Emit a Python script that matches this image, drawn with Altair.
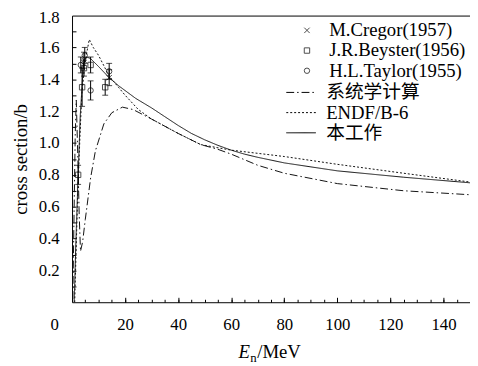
import altair as alt
import pandas as pd

# ---------------- data ----------------
line_names = ["系统学计算", "ENDF/B-6", "本工作"]

E_sys = [0.3, 0.8, 1.2, 1.6, 2.2, 2.7, 3.2, 4, 5, 7, 8.8, 12, 15, 19, 23, 30, 40, 48.5, 55, 60, 70, 80, 100, 125, 150]
S_sys = [0.02, 0.6, 1.05, 1.27, 0.9, 0.55, 0.32, 0.38, 0.52, 0.78, 0.95, 1.12, 1.19, 1.225, 1.21, 1.15, 1.06, 0.99, 0.96, 0.93, 0.86, 0.81, 0.745, 0.70, 0.675]

E_endf = [1.0, 2, 3, 3.7, 5, 6.5, 8, 10, 14, 17.5, 20, 25, 30, 40, 48.5, 55, 60, 70, 80, 100, 125, 150]
S_endf = [0.0, 0.6, 1.05, 1.31, 1.52, 1.65, 1.6, 1.55, 1.42, 1.35, 1.30, 1.21, 1.15, 1.06, 0.99, 0.97, 0.955, 0.935, 0.915, 0.866, 0.81, 0.755]

E_work = [0.8, 1.5, 2.3, 3.1, 4.3, 5.5, 7, 10, 14, 17.5, 24, 30, 35, 40, 45, 50, 55, 60, 65, 70, 80, 100, 125, 150]
S_work = [0.0, 0.4, 0.8, 1.17, 1.50, 1.54, 1.53, 1.48, 1.41, 1.36, 1.28, 1.22, 1.165, 1.11, 1.06, 1.02, 0.985, 0.955, 0.93, 0.91, 0.875, 0.825, 0.785, 0.75]

point_names = ["M.Cregor(1957)", "J.R.Beyster(1956)", "H.L.Taylor(1955)"]

E_cregor = [4.5, 14.0]
S_cregor = [1.52, 1.41]
D_cregor = [0.05, 0.05]

E_beyster = [2.3, 3.8, 4.5, 7.0, 12.5]
S_beyster = [0.80, 1.35, 1.47, 1.49, 1.35]
D_beyster = [0.06, 0.12, 0.05, 0.05, 0.05]

E_taylor = [3.3, 4.8, 7.0, 14.0]
S_taylor = [1.49, 1.55, 1.33, 1.45]
D_taylor = [0.05, 0.05, 0.06, 0.05]

x_labels = [0, 20, 40, 60, 80, 100, 120, 140]
x_major = [20, 40, 60, 80, 100, 120, 140]
x_minor = [v for v in range(5, 150, 5)]
y_labels = [0.2, 0.4, 0.6, 0.8, 1.0, 1.2, 1.4, 1.6, 1.8]
y_minor = [0.1, 0.2, 0.3, 0.4, 0.5, 0.6, 0.7, 0.8, 0.9, 1.0, 1.1, 1.2, 1.3, 1.4, 1.5, 1.6, 1.7]

# ---------------- tables ----------------
rows = []
for name, es, ss in zip(line_names, [E_sys, E_endf, E_work], [S_sys, S_endf, S_work]):
    for i, (e, s) in enumerate(zip(es, ss)):
        rows.append({"series": name, "E": e, "S": s, "i": i})
lines_df = pd.DataFrame(rows)

prow = []
for name, es, ss, ds in zip(point_names, [E_cregor, E_beyster, E_taylor],
                            [S_cregor, S_beyster, S_taylor], [D_cregor, D_beyster, D_taylor]):
    for e, s, d in zip(es, ss, ds):
        prow.append({"series": name, "E": e, "S": s, "lo": s - d, "hi": s + d})
pts_df = pd.DataFrame(prow)
caps_df = pd.concat([
    pts_df[["E", "lo"]].rename(columns={"lo": "c"}),
    pts_df[["E", "hi"]].rename(columns={"hi": "c"}),
])

FONT = "'Liberation Serif', 'Noto Sans CJK SC', serif"
x_scale = alt.Scale(domain=[0, 150], nice=False, zero=False)
y_scale = alt.Scale(domain=[0, 1.8], nice=False)

main_x = alt.Axis(values=x_labels, ticks=False, domain=True, domainColor="black", domainWidth=1,
                  labelFont=FONT, labelFontSize=17, labelColor="black", labelPadding=15,
                  labelFlush=False, grid=False, title=None, orient="bottom",
                  labelOffset={"condition": {"test": "datum.value === 0", "value": -18}, "value": 0})
main_y = alt.Axis(values=y_labels, format=".1f", ticks=False, domain=True, domainColor="black",
                  domainWidth=1, labelFont=FONT, labelFontSize=17, labelColor="black",
                  labelPadding=13, grid=False, orient="left", labelFlush=False,
                  labelOffset={"condition": {"test": "datum.value > 1.75", "value": 2}, "value": 0},
                  title="cross section/b", titleFont=FONT, titleFontSize=19,
                  titleFontWeight="normal", titleColor="black", titlePadding=8)
tick_x_major = alt.Axis(values=x_major, labels=False, domain=False, ticks=True, tickSize=5,
                        tickColor="black", offset=-5, grid=False, title=None, orient="bottom")
tick_x_minor = alt.Axis(values=x_minor, labels=False, domain=False, ticks=True, tickSize=3,
                        tickColor="black", offset=-3, grid=False, title=None, orient="bottom")
tick_y = alt.Axis(values=y_minor, labels=False, domain=False, ticks=True, tickSize=4,
                  tickColor="black", offset=-4, grid=False, title=None, orient="left")
top_frame = alt.Axis(labels=False, ticks=False, domain=True, domainColor="black", domainWidth=1,
                     grid=False, title=None, orient="top")

lines = alt.Chart(lines_df).mark_line(strokeWidth=1, color="#111").encode(
    x=alt.X("E:Q", scale=x_scale, axis=main_x),
    y=alt.Y("S:Q", scale=y_scale, axis=main_y),
    strokeDash=alt.StrokeDash(
        "series:N",
        scale=alt.Scale(domain=line_names, range=[[8, 3, 1.5, 3], [2, 2], [1, 0]]),
        legend=alt.Legend(title=None, orient="none", legendX=217, legendY=69,
                          symbolType="stroke", symbolSize=900, symbolStrokeWidth=1,
                          symbolStrokeColor="black", labelFont=FONT, labelFontSize=19,
                          labelColor="black", labelOffset=10, clipHeight=18, rowPadding=1.5,
                          padding=0, labelLimit=300),
    ),
    order="i:Q",
)

cross = "M-1,-1L1,1M1,-1L-1,1"
points = alt.Chart(pts_df).mark_point(filled=False, size=30, strokeWidth=1, color="black").encode(
    x=alt.X("E:Q", scale=x_scale, axis=tick_x_major),
    y=alt.Y("S:Q", scale=y_scale, axis=tick_y),
    shape=alt.Shape(
        "series:N",
        scale=alt.Scale(domain=point_names, range=[cross, "square", "circle"]),
        legend=alt.Legend(title=None, orient="none", legendX=229, legendY=6, symbolSize=30,
                          symbolStrokeColor="black", symbolStrokeWidth=1, labelFont=FONT,
                          labelFontSize=19, labelColor="black", labelOffset=13, clipHeight=18,
                          rowPadding=1.5, padding=0, labelLimit=300),
    ),
)

bars = alt.Chart(pts_df).mark_rule(strokeWidth=1, color="black").encode(
    x=alt.X("E:Q", scale=x_scale, axis=tick_x_minor),
    y=alt.Y("lo:Q", scale=y_scale, axis=None),
    y2="hi:Q",
)
caps = alt.Chart(caps_df).mark_tick(orient="horizontal", size=6, thickness=1, color="black").encode(
    x=alt.X("E:Q", scale=x_scale, axis=top_frame),
    y=alt.Y("c:Q", scale=y_scale, axis=None),
)

t1 = alt.Chart(pd.DataFrame({"t": ["E"]})).mark_text(
    font="Liberation Serif", fontSize=19, fontStyle="italic", align="left", baseline="alphabetic",
    color="black").encode(text="t:N", x=alt.value(169), y=alt.value(348))
t2 = alt.Chart(pd.DataFrame({"t": ["n"]})).mark_text(
    font="Liberation Serif", fontSize=13, align="left", baseline="alphabetic",
    color="black").encode(text="t:N", x=alt.value(181), y=alt.value(352))
t3 = alt.Chart(pd.DataFrame({"t": ["/MeV"]})).mark_text(
    font="Liberation Serif", fontSize=19, align="left", baseline="alphabetic",
    color="black").encode(text="t:N", x=alt.value(188), y=alt.value(348))

chart = alt.layer(lines, bars, caps, points, t1, t2, t3).resolve_axis(
    x="independent", y="independent"
).properties(
    width=404, height=291,
    autosize=alt.AutoSizeParams(type="none"),
    padding={"left": 65, "top": 5, "right": 0, "bottom": 60},
    background="white",
).configure_view(stroke=None)

chart.save("out.html", embed_options={"renderer": "svg", "actions": False})
